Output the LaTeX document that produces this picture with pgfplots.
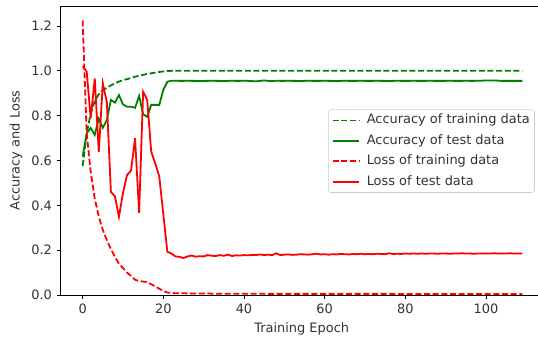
\documentclass[border=0pt]{standalone}
\usepackage{fontspec}
\setmainfont{DejaVu Sans}
\usepackage{pgfplots}
\pgfplotsset{compat=1.18}
\usepackage{pgfplotstable}

\definecolor{mplgreen}{rgb}{0,0.5,0}
\definecolor{mplred}{rgb}{1,0,0}

\pgfplotstableread{
ep ta va tl vl
0 0.575 0.617 1.225 1.021
1 0.720 0.721 0.720 0.996
2 0.810 0.745 0.550 0.788
3 0.865 0.714 0.430 0.966
4 0.895 0.786 0.350 0.639
5 0.913 0.746 0.290 0.944
6 0.925 0.780 0.245 0.860
7 0.935 0.870 0.205 0.460
8 0.944 0.858 0.170 0.440
9 0.952 0.892 0.140 0.349
10 0.958 0.850 0.120 0.455
11 0.963 0.840 0.100 0.535
12 0.968 0.840 0.085 0.555
13 0.974 0.835 0.068 0.699
14 0.978 0.888 0.062 0.367
15 0.982 0.806 0.060 0.907
16 0.986 0.795 0.057 0.870
17 0.989 0.848 0.048 0.639
18 0.992 0.848 0.038 0.587
19 0.995 0.848 0.028 0.528
20 0.997 0.915 0.018 0.360
21 0.999 0.951 0.011 0.193
22 1.000 0.956 0.009 0.185
23 1.000 0.956 0.008 0.172
24 1.000 0.955 0.008 0.170
25 1.000 0.955 0.008 0.165
26 1.000 0.956 0.007 0.172
27 1.000 0.955 0.007 0.176
28 1.000 0.955 0.007 0.171
29 1.000 0.954 0.007 0.173
30 1.000 0.955 0.007 0.172
31 1.000 0.955 0.007 0.178
32 1.000 0.956 0.006 0.175
33 1.000 0.955 0.006 0.174
34 1.000 0.955 0.006 0.178
35 1.000 0.954 0.006 0.175
36 1.000 0.955 0.006 0.180
37 1.000 0.956 0.006 0.174
38 1.000 0.955 0.006 0.177
39 1.000 0.955 0.006 0.176
40 1.000 0.956 0.006 0.178
41 1.000 0.955 0.006 0.177
42 1.000 0.954 0.006 0.179
43 1.000 0.953 0.006 0.178
44 1.000 0.955 0.006 0.181
45 1.000 0.957 0.006 0.178
46 1.000 0.955 0.005 0.180
47 1.000 0.954 0.005 0.178
48 1.000 0.956 0.005 0.186
49 1.000 0.955 0.005 0.178
50 1.000 0.955 0.005 0.180
51 1.000 0.956 0.005 0.181
52 1.000 0.955 0.005 0.179
53 1.000 0.955 0.005 0.180
54 1.000 0.954 0.005 0.182
55 1.000 0.955 0.005 0.181
56 1.000 0.956 0.005 0.180
57 1.000 0.955 0.005 0.182
58 1.000 0.955 0.005 0.184
59 1.000 0.955 0.005 0.181
60 1.000 0.956 0.005 0.182
61 1.000 0.955 0.005 0.180
62 1.000 0.955 0.005 0.182
63 1.000 0.954 0.005 0.181
64 1.000 0.955 0.005 0.183
65 1.000 0.956 0.005 0.182
66 1.000 0.955 0.005 0.181
67 1.000 0.955 0.005 0.183
68 1.000 0.955 0.005 0.182
69 1.000 0.956 0.005 0.184
70 1.000 0.955 0.005 0.182
71 1.000 0.955 0.005 0.183
72 1.000 0.955 0.005 0.182
73 1.000 0.956 0.005 0.184
74 1.000 0.955 0.005 0.183
75 1.000 0.955 0.005 0.182
76 1.000 0.954 0.005 0.186
77 1.000 0.955 0.005 0.183
78 1.000 0.956 0.004 0.184
79 1.000 0.955 0.004 0.183
80 1.000 0.955 0.004 0.185
81 1.000 0.955 0.004 0.184
82 1.000 0.956 0.004 0.185
83 1.000 0.955 0.004 0.184
84 1.000 0.955 0.004 0.185
85 1.000 0.955 0.004 0.184
86 1.000 0.956 0.004 0.185
87 1.000 0.955 0.004 0.185
88 1.000 0.955 0.004 0.184
89 1.000 0.955 0.004 0.185
90 1.000 0.955 0.004 0.185
91 1.000 0.956 0.004 0.184
92 1.000 0.955 0.004 0.185
93 1.000 0.955 0.004 0.185
94 1.000 0.955 0.004 0.186
95 1.000 0.956 0.004 0.185
96 1.000 0.955 0.004 0.185
97 1.000 0.955 0.004 0.184
98 1.000 0.956 0.004 0.185
99 1.000 0.956 0.004 0.185
100 1.000 0.957 0.004 0.185
101 1.000 0.957 0.004 0.185
102 1.000 0.957 0.004 0.186
103 1.000 0.956 0.004 0.185
104 1.000 0.955 0.004 0.185
105 1.000 0.955 0.004 0.185
106 1.000 0.955 0.004 0.186
107 1.000 0.955 0.004 0.185
108 1.000 0.955 0.004 0.185
109 1.000 0.955 0.004 0.185
}\data

\begin{document}
\begin{tikzpicture}
\begin{axis}[
  at={(0,0)}, anchor=south west,
  scale only axis, width=379.5pt, height=216.75pt,
  xmin=-5.45, xmax=120, ymin=0, ymax=1.289,
  xtick={0,20,40,60,80,100},
  ytick={0,0.2,0.4,0.6,0.8,1.0,1.2},
  /pgf/number format/assume math mode=true,
  yticklabel={\pgfmathprintnumber[fixed,fixed zerofill,precision=1]{\tick}},
  tick align=outside, tick pos=left,
  major tick length=3pt,
  tick style={black, line width=0.6pt},
  axis line style={black, line width=0.6pt},
  font=\fontsize{9.7}{11.5}\selectfont,
  ticklabel style={text=black!80},
  label style={text=black!80},
  xlabel={Training Epoch},
  xlabel style={at={(ticklabel cs:0.4763)}, anchor=north},
  ylabel={Accuracy and Loss},
  legend cell align=left,
  legend image code/.code={\draw[#1] (0cm,0cm) -- (0.7cm,0cm);},
  legend style={at={(0.5286,0.6426)}, anchor=north west,
    draw=black!20, rounded corners=2pt, fill=white, fill opacity=0.8, text opacity=1,
    inner sep=2.5pt, row sep=4pt, column sep=4pt,
    nodes={inner sep=1pt, text height=7.3pt, text depth=2pt, text=black!80},
    font=\fontsize{9.7}{11.5}\selectfont},
]
\addplot[mplgreen, line width=1.35pt, dash pattern=on 4.5pt off 2pt] table[x=ep,y=ta]{\data};
\addlegendentry{Accuracy of training data}
\addplot[mplgreen, line width=1.35pt] table[x=ep,y=va]{\data};
\addlegendentry{Accuracy of test data}
\addplot[mplred, line width=1.35pt, dash pattern=on 4.5pt off 2pt] table[x=ep,y=tl]{\data};
\addlegendentry{Loss of training data}
\addplot[mplred, line width=1.35pt] table[x=ep,y=vl]{\data};
\addlegendentry{Loss of test data}
\end{axis}
\pgfresetboundingbox
\useasboundingbox (-45.5pt,-33.75pt) rectangle (358pt,221.25pt);
\end{tikzpicture}
\end{document}
